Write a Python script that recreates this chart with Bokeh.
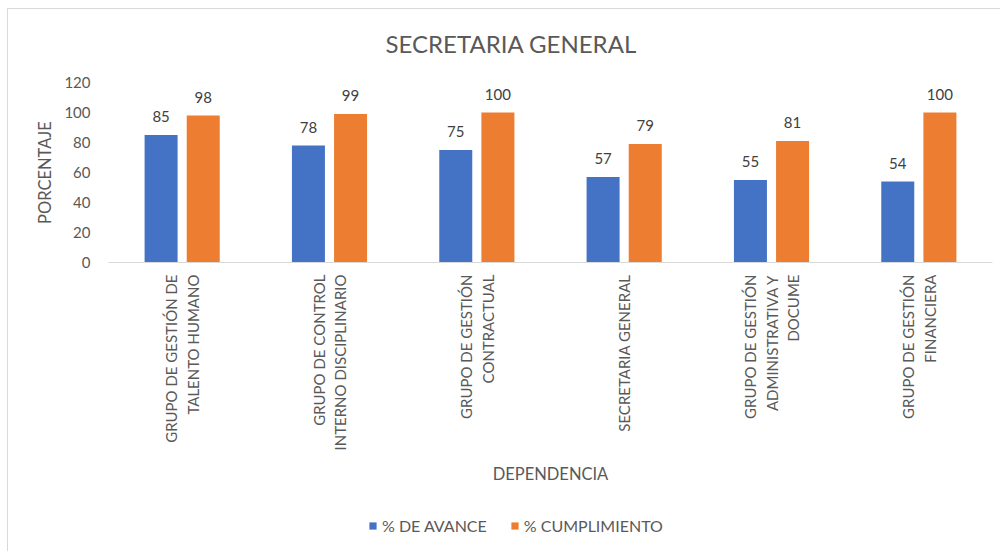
from math import pi
from bokeh.plotting import figure
from bokeh.layouts import column
from bokeh.models import Range1d, FactorRange, Legend, LegendItem, FixedTicker, ColumnDataSource
from bokeh.transform import dodge
from bokeh.core.properties import value
from bokeh.embed import file_html
from bokeh.resources import INLINE

title_text = "SECRETARIA GENERAL"
categories = [
    "GRUPO DE GESTIÓN DE\nTALENTO HUMANO",
    "GRUPO DE CONTROL\nINTERNO DISCIPLINARIO",
    "GRUPO DE GESTIÓN\nCONTRACTUAL",
    "SECRETARIA GENERAL",
    "GRUPO DE GESTIÓN\nADMINISTRATIVA Y\nDOCUME",
    "GRUPO DE GESTIÓN\nFINANCIERA",
]
avance = [85, 78, 75, 57, 55, 54]
cumplimiento = [98, 99, 100, 79, 81, 100]
series_names = ["% DE AVANCE", "% CUMPLIMIENTO"]
series_colors = ["#4472C4", "#ED7D31"]
y_ticks = [0, 20, 40, 60, 80, 100, 120]
x_label = "DEPENDENCIA"
y_label = "PORCENTAJE"

FONT = "Lato"
TXT = "#595959"

src = ColumnDataSource(dict(
    cat=categories,
    avance=avance,
    cumplimiento=cumplimiento,
    avance_txt=[str(v) for v in avance],
    cumpl_txt=[str(v) for v in cumplimiento],
))

p = figure(
    x_range=FactorRange(factors=categories, range_padding=0),
    y_range=Range1d(0, 120),
    width=1000, height=500,
    output_backend="svg", toolbar_location=None,
    min_border_left=108, min_border_right=8,
    min_border_top=82, min_border_bottom=238,
)
p.border_fill_color = None
p.background_fill_color = None

p.title.text = title_text
p.title.align = "left"
p.title.offset = 277
p.title.standoff = 50
p.title.text_font = FONT
p.title.text_font_size = "24px"
p.title.text_font_style = "normal"
p.title.text_color = TXT

off = 0.143
bw = 0.224
p.vbar(x=dodge("cat", -off, range=p.x_range), top="avance", width=bw,
       fill_color=series_colors[0], line_color=None, source=src)
p.vbar(x=dodge("cat", off, range=p.x_range), top="cumplimiento", width=bw,
       fill_color=series_colors[1], line_color=None, source=src)

for col, txt, dx in (("avance", "avance_txt", -off), ("cumplimiento", "cumpl_txt", off)):
    p.text(x=dodge("cat", dx, range=p.x_range), y=col, text=txt, source=src,
           text_align="center", text_baseline="bottom", y_offset=-13,
           text_font=value(FONT), text_font_size="15px", text_color="#404040")

p.xgrid.grid_line_color = None
p.ygrid.grid_line_color = None
p.outline_line_color = None

xa = p.xaxis[0]
xa.axis_line_color = "#d9d9d9"
xa.axis_line_width = 1
xa.major_tick_line_color = None
xa.minor_tick_line_color = None
xa.major_label_orientation = pi / 2
xa.major_label_standoff = 6
xa.major_label_text_font = FONT
xa.major_label_text_font_size = "15px"
xa.major_label_text_color = TXT
xa.axis_label = x_label
xa.axis_label_standoff = 11
xa.axis_label_text_font = FONT
xa.axis_label_text_font_size = "16.5px"
xa.axis_label_text_font_style = "normal"
xa.axis_label_text_color = TXT

ya = p.yaxis[0]
ya.ticker = FixedTicker(ticks=y_ticks)
ya.axis_line_color = None
ya.major_tick_line_color = None
ya.minor_tick_line_color = None
ya.major_label_standoff = 12
ya.major_label_text_font = FONT
ya.major_label_text_font_size = "15px"
ya.major_label_text_color = TXT
ya.axis_label = y_label
ya.axis_label_standoff = 6
ya.axis_label_text_font = FONT
ya.axis_label_text_font_size = "16.5px"
ya.axis_label_text_font_style = "normal"
ya.axis_label_text_color = TXT

# legend strip below the chart (its frame is aligned with the chart frame)
leg = figure(
    x_range=Range1d(0, 1), y_range=Range1d(0, 1),
    width=1000, height=51, output_backend="svg", toolbar_location=None,
    min_border=0,
)
leg.border_fill_color = None
leg.background_fill_color = None
leg.outline_line_color = None
leg.axis.visible = False
leg.grid.visible = False
items = []
for name, color in zip(series_names, series_colors):
    r = leg.vbar(x=[0], top=[0], width=0, fill_color=color, line_color=None)
    items.append(LegendItem(label=name, renderers=[r]))
legend = Legend(
    items=items, orientation="horizontal", location=(260, 16), margin=0,
    glyph_width=9, glyph_height=9, label_standoff=5, spacing=23, padding=0,
    border_line_color=None, background_fill_alpha=0,
    label_text_font=FONT, label_text_font_size="16px", label_text_color=TXT,
)
leg.add_layout(legend)

layout = column(p, leg, spacing=0)
layout.styles = {"box-shadow": "inset 7px 8px 0 0 #ffffff, inset 8px 9px 0 0 #d9d9d9"}

open("out.html", "w").write(file_html(layout, INLINE))
